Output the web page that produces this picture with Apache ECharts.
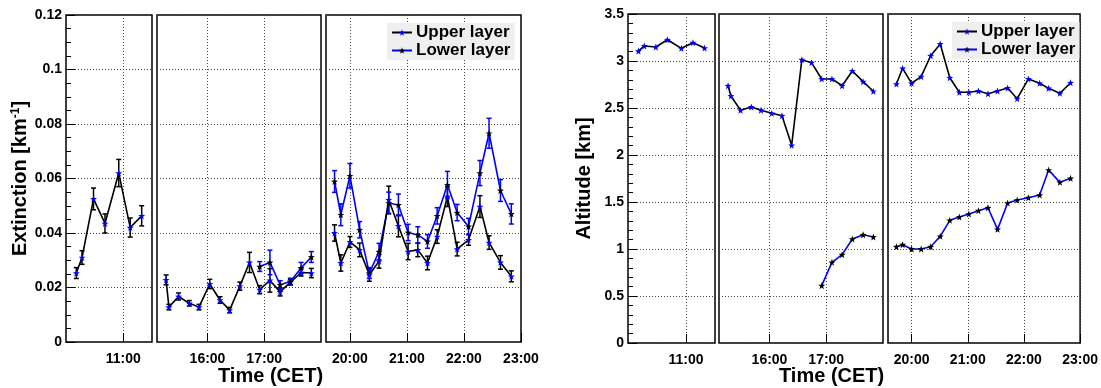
<!DOCTYPE html>
<html>
<head>
<meta charset="utf-8">
<script src="https://cdn.jsdelivr.net/npm/echarts@6/dist/echarts.min.js"></script>
<style>
html,body{margin:0;padding:0;background:#fff;}
#c{width:1101px;height:388px;}
</style>
</head>
<body>
<div id="c"></div>
<script>
// ---------------- DATA ----------------
// time of measurement in decimal hours (CET)
const timeP1 = [10.18, 10.28, 10.48, 10.68, 10.92, 11.12, 11.32];
const timeP2 = [15.27, 15.32, 15.49, 15.68, 15.85, 16.04, 16.22, 16.39, 16.57, 16.74, 16.92, 17.10, 17.28, 17.46, 17.65, 17.83];
const timeP2Low = [16.92, 17.10, 17.28, 17.46, 17.65, 17.83];
const timeP3 = [19.73, 19.84, 20.0, 20.17, 20.34, 20.51, 20.68, 20.85, 21.02, 21.19, 21.36, 21.53, 21.71, 21.88, 22.08, 22.28, 22.44, 22.64, 22.83];

// extinction [km^-1]
const extUpP1 = [0.0253, 0.0310, 0.0525, 0.0435, 0.0620, 0.0420, 0.0463];
const extUpErrP1 = [0.002, 0.0025, 0.004, 0.0035, 0.005, 0.0035, 0.0037];
const extUpP2 = [0.0228, 0.0128, 0.0167, 0.0142, 0.0128, 0.0213, 0.0154, 0.0117, 0.0205, 0.0292, 0.0192, 0.0226, 0.0184, 0.0219, 0.0255, 0.0253];
const extUpErrP2 = [0.0018, 0.001, 0.0013, 0.001, 0.001, 0.0017, 0.0012, 0.001, 0.0015, 0.0037, 0.0015, 0.0043, 0.0015, 0.001, 0.0013, 0.0017];
const extLowP2 = [0.0277, 0.0292, 0.0210, 0.0222, 0.0272, 0.0312];
const extLowErrP2 = [0.0018, 0.0045, 0.0015, 0.0012, 0.002, 0.002];
const extUpP3 = [0.0400, 0.0290, 0.0367, 0.0338, 0.0247, 0.0296, 0.0522, 0.0426, 0.0332, 0.0338, 0.0290, 0.0387, 0.0534, 0.0341, 0.0375, 0.0497, 0.0365, 0.0292, 0.0241];
const extUpErrP3 = [0.003, 0.003, 0.002, 0.0025, 0.0024, 0.0025, 0.005, 0.004, 0.003, 0.0025, 0.0025, 0.0025, 0.0037, 0.0025, 0.002, 0.004, 0.0025, 0.0025, 0.002];
const extLowP3 = [0.0589, 0.0467, 0.0610, 0.0412, 0.0253, 0.0332, 0.0510, 0.0503, 0.0402, 0.0393, 0.0369, 0.0463, 0.0577, 0.0475, 0.0424, 0.0620, 0.0766, 0.0556, 0.0470];
const extLowErrP3 = [0.004, 0.004, 0.0045, 0.003, 0.002, 0.003, 0.004, 0.004, 0.003, 0.003, 0.0025, 0.003, 0.0049, 0.003, 0.003, 0.0046, 0.0055, 0.004, 0.0037];

// altitude [km]
const altUpP1 = [3.106, 3.160, 3.149, 3.226, 3.135, 3.195, 3.138];
const altUpP2 = [2.737, 2.628, 2.476, 2.511, 2.476, 2.444, 2.418, 2.103, 3.014, 2.982, 2.809, 2.809, 2.737, 2.894, 2.780, 2.678];
const altLowP2 = [0.610, 0.858, 0.940, 1.106, 1.152, 1.128];
const altUpP3 = [2.755, 2.922, 2.763, 2.833, 3.056, 3.181, 2.822, 2.667, 2.667, 2.681, 2.652, 2.681, 2.713, 2.599, 2.809, 2.763, 2.709, 2.656, 2.769];
const altLowP3 = [1.024, 1.046, 1.000, 1.000, 1.024, 1.135, 1.305, 1.340, 1.372, 1.408, 1.439, 1.209, 1.489, 1.521, 1.546, 1.574, 1.840, 1.709, 1.752];

// axis ticks (hours shown on the broken time axis)
const hoursP1 = [11];
const hoursP2 = [16, 17];
const hoursP3 = [20, 21, 22, 23];
const rangeP1 = [10.0, 11.5];
const rangeP2 = [15.11, 18.0];
const rangeP3 = [19.58, 23.0];
const legendNames = ['Upper layer', 'Lower layer'];

// ---------------- CHART ----------------
const FONT = '"Liberation Sans", Arial, Helvetica, sans-serif';
const BLUE = '#0000ff';
const BLACK = '#000000';
const STAR = 'path://M0,-10L2.35,-3.24L9.51,-3.09L3.8,1.24L5.88,8.09L0,4L-5.88,8.09L-3.8,1.24L-9.51,-3.09L-2.35,-3.24Z';

const chart = echarts.init(document.getElementById('c'), null, {renderer: 'canvas'});

const grids = [
  {left: 66, top: 15, width: 86, height: 327},
  {left: 157, top: 15, width: 164, height: 327},
  {left: 326, top: 15, width: 195, height: 327},
  {left: 628, top: 14, width: 87, height: 329},
  {left: 719, top: 14, width: 164, height: 329},
  {left: 888, top: 14, width: 194, height: 329}
].map(g => Object.assign(g, {show: true, borderColor: '#000', borderWidth: 1.5, backgroundColor: 'transparent'}));

function xAxisFor(g, range, hours) {
  return {
    type: 'value', gridIndex: g, min: range[0], max: range[1],
    axisLine: {show: false},
    axisTick: {show: true, inside: true, length: 9, customValues: hours, lineStyle: {color: '#000', width: 1}},
    axisLabel: {show: true, customValues: hours, formatter: v => Math.round(v) + ':00', margin: 10,
      fontFamily: FONT, fontWeight: 'bold', fontSize: 14, color: '#000'},
    splitLine: {show: true, customValues: hours, lineStyle: {type: [1, 2], color: '#444', width: 1}}
  };
}
const fmtY = v => (Math.abs(v) < 1e-9 ? '0' : String(parseFloat(v.toFixed(2))));
function yAxisFor(g, max, interval, minorSplit, first, name) {
  return {
    type: 'value', gridIndex: g, min: 0, max: max, interval: interval,
    axisLine: {show: false},
    axisTick: {show: first, inside: true, length: 9, lineStyle: {color: '#000'}},
    minorTick: {show: first, splitNumber: minorSplit, length: 5, lineStyle: {color: '#000'}},
    axisLabel: {show: first, formatter: fmtY, margin: 4, fontFamily: FONT, fontWeight: 'bold', fontSize: 14, color: '#000'},
    splitLine: {show: true, lineStyle: {type: [1, 2], color: '#444', width: 1}},
    name: first ? name : '', nameLocation: 'middle', nameGap: 34, nameRotate: 90,
    nameTextStyle: {fontFamily: FONT, fontWeight: 'bold', fontSize: 20, color: '#000',
      rich: {sup: {fontFamily: FONT, fontWeight: 'bold', fontSize: 12, color: '#000', verticalAlign: 'top', padding: [0, 0, 10, 0]}}}
  };
}

const xAxes = [
  xAxisFor(0, rangeP1, hoursP1), xAxisFor(1, rangeP2, hoursP2), xAxisFor(2, rangeP3, hoursP3),
  xAxisFor(3, rangeP1, hoursP1), xAxisFor(4, rangeP2, hoursP2), xAxisFor(5, rangeP3, hoursP3)
];
const yAxes = [
  yAxisFor(0, 0.12, 0.02, 4, true, 'Extinction [km{sup|-1}]'),
  yAxisFor(1, 0.12, 0.02, 4, false, ''),
  yAxisFor(2, 0.12, 0.02, 4, false, ''),
  yAxisFor(3, 3.5, 0.5, 5, true, 'Altitude [km]'),
  yAxisFor(4, 3.5, 0.5, 5, false, ''),
  yAxisFor(5, 3.5, 0.5, 5, false, '')
];

const zip = (t, v) => t.map((x, i) => [x, v[i]]);
const errZip = (t, v, e) => t.map((x, i) => [x, v[i] - e[i], v[i] + e[i]]);

function lineSeries(g, name, t, v, isUpper) {
  return {
    type: 'line', name: name, xAxisIndex: g, yAxisIndex: g, data: zip(t, v),
    symbol: STAR, symbolSize: 7, showSymbol: true, animation: false, z: 5,
    lineStyle: {color: isUpper ? BLACK : BLUE, width: 1.6},
    itemStyle: {color: isUpper ? BLUE : BLACK, borderWidth: 0}
  };
}
function renderErr(params, api) {
  const x = api.value(0), lo = api.value(1), hi = api.value(2);
  const p1 = api.coord([x, hi]), p2 = api.coord([x, lo]);
  const w = 2.5;
  const style = {stroke: api.visual('color'), lineWidth: 1.5, fill: null};
  return {type: 'group', children: [
    {type: 'line', shape: {x1: p1[0], y1: p1[1], x2: p2[0], y2: p2[1]}, style: style},
    {type: 'line', shape: {x1: p1[0] - w, y1: p1[1], x2: p1[0] + w, y2: p1[1]}, style: style},
    {type: 'line', shape: {x1: p2[0] - w, y1: p2[1], x2: p2[0] + w, y2: p2[1]}, style: style}
  ]};
}
function errSeries(g, t, v, e, isUpper) {
  return {
    type: 'custom', xAxisIndex: g, yAxisIndex: g, data: errZip(t, v, e),
    renderItem: renderErr, encode: {x: 0, y: [1, 2]}, animation: false, z: 3, silent: true,
    itemStyle: {color: isUpper ? BLACK : BLUE}
  };
}

const series = [
  // extinction
  errSeries(0, timeP1, extUpP1, extUpErrP1, true),
  lineSeries(0, 'Upper layer', timeP1, extUpP1, true),
  errSeries(1, timeP2, extUpP2, extUpErrP2, true),
  errSeries(1, timeP2Low, extLowP2, extLowErrP2, false),
  lineSeries(1, 'Upper layer', timeP2, extUpP2, true),
  lineSeries(1, 'Lower layer', timeP2Low, extLowP2, false),
  errSeries(2, timeP3, extUpP3, extUpErrP3, true),
  errSeries(2, timeP3, extLowP3, extLowErrP3, false),
  lineSeries(2, 'Lower layer', timeP3, extLowP3, false),
  lineSeries(2, 'Upper layer', timeP3, extUpP3, true),
  // altitude
  lineSeries(3, 'Upper layer', timeP1, altUpP1, true),
  lineSeries(4, 'Upper layer', timeP2, altUpP2, true),
  lineSeries(4, 'Lower layer', timeP2Low, altLowP2, false),
  lineSeries(5, 'Upper layer', timeP3, altUpP3, true),
  lineSeries(5, 'Lower layer', timeP3, altLowP3, false)
];

function legendAt(left, top) {
  return {
    show: true, data: legendNames, orient: 'vertical', left: left, top: top,
    backgroundColor: '#efefef', padding: [1, 4, 1, 4], itemGap: 1, itemWidth: 20, itemHeight: 8,
    selectedMode: false,
    textStyle: {fontFamily: FONT, fontWeight: 'bold', fontSize: 17, color: '#000', lineHeight: 17, padding: [0, 0, 0, -1]}
  };
}

const option = {
  animation: false,
  backgroundColor: '#fff',
  grid: grids,
  xAxis: xAxes,
  yAxis: yAxes,
  legend: [legendAt(387, 23), legendAt(952, 22)],
  series: series,
  graphic: [
    {type: 'text', left: 218, top: 366, style: {text: 'Time (CET)', font: 'bold 20px ' + FONT, fill: '#000'}},
    {type: 'text', left: 779, top: 366, style: {text: 'Time (CET)', font: 'bold 20px ' + FONT, fill: '#000'}}
  ]
};
chart.setOption(option);
</script>
</body>
</html>
